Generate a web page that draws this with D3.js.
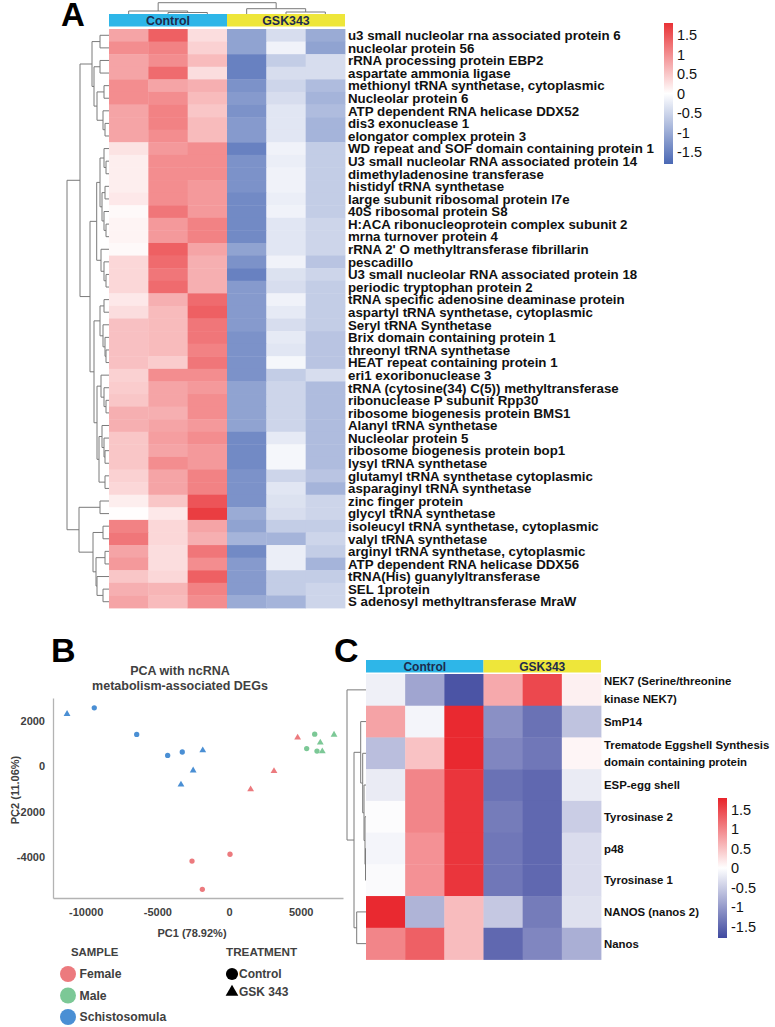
<!DOCTYPE html>
<html><head><meta charset="utf-8">
<script src="https://cdn.jsdelivr.net/npm/d3@7"></script>
<style>body{margin:0;background:#fff}svg{display:block}</style>
</head><body>
<svg id="fig" width="775" height="1027"></svg>
<script>
// ---------------- DATA ----------------
const samples = ["Control 1","Control 2","Control 3","GSK343 1","GSK343 2","GSK343 3"];
const groups = ["Control","GSK343"];
const legendTicks = [1.5, 1, 0.5, 0, -0.5, -1, -1.5];

const rowLabelsA = [
"u3 small nucleolar rna associated protein 6","nucleolar protein 56","rRNA processing protein EBP2",
"aspartate ammonia ligase","methionyl tRNA synthetase, cytoplasmic","Nucleolar protein 6",
"ATP dependent RNA helicase DDX52","dis3 exonuclease 1","elongator complex protein 3",
"WD repeat and SOF domain containing protein 1","U3 small nucleolar RNA associated protein 14",
"dimethyladenosine transferase","histidyl tRNA synthetase","large subunit ribosomal protein l7e",
"40S ribosomal protein S8","H:ACA ribonucleoprotein complex subunit 2","mrna turnover protein 4",
"rRNA 2' O methyltransferase fibrillarin","pescadillo","U3 small nucleolar RNA associated protein 18",
"periodic tryptophan protein 2","tRNA specific adenosine deaminase protein","aspartyl tRNA synthetase, cytoplasmic",
"Seryl tRNA Synthetase","Brix domain containing protein 1","threonyl tRNA synthetase",
"HEAT repeat containing protein 1","eri1 exoribonuclease 3","tRNA (cytosine(34) C(5)) methyltransferase",
"ribonuclease P subunit Rpp30","ribosome biogenesis protein BMS1","Alanyl tRNA synthetase",
"Nucleolar protein 5","ribosome biogenesis protein bop1","lysyl tRNA synthetase",
"glutamyl tRNA synthetase cytoplasmic","asparaginyl tRNA synthetase","zinc finger protein",
"glycyl tRNA synthetase","isoleucyl tRNA synthetase, cytoplasmic","valyl tRNA synthetase",
"arginyl tRNA synthetase, cytoplasmic","ATP dependent RNA helicase DDX56","tRNA(His) guanylyltransferase",
"SEL 1protein","S adenosyl methyltransferase MraW"];

const zA = [
[0.8,1.4,0.3,-1.1,-0.4,-1.0],[1.0,1.1,0.4,-1.1,-0.15,-1.1],[0.8,1.0,0.6,-1.5,-0.6,-0.4],
[0.8,1.3,0.3,-1.5,-0.4,-0.4],[1.0,0.8,0.7,-1.3,-0.5,-0.8],[1.0,1.0,0.6,-1.2,-0.4,-0.9],
[0.8,1.1,0.5,-1.3,-0.3,-0.8],[0.8,1.1,0.6,-1.2,-0.3,-0.9],[0.8,1.0,0.6,-1.2,-0.3,-0.9],
[0.25,0.9,1.0,-1.5,-0.15,-0.6],[0.15,1.0,1.0,-1.3,-0.2,-0.6],[0.15,1.0,1.0,-1.3,-0.15,-0.6],
[0.15,1.0,0.9,-1.3,-0.15,-0.6],[0.2,1.0,0.9,-1.4,-0.2,-0.6],[0.05,1.2,0.9,-1.4,-0.15,-0.6],
[0.1,0.9,1.1,-1.4,-0.3,-0.5],[0.1,0.9,1.1,-1.4,-0.3,-0.5],[0.05,1.4,0.8,-1.1,-0.3,-0.5],
[0.35,1.3,0.7,-1.3,-0.15,-0.7],[0.35,1.2,0.7,-1.5,-0.35,-0.5],[0.35,1.3,0.7,-1.2,-0.4,-0.6],
[0.2,0.7,1.3,-1.2,-0.15,-0.6],[0.3,0.6,1.4,-1.2,-0.25,-0.6],[0.55,0.6,1.2,-1.2,-0.4,-0.6],
[0.55,0.6,1.2,-1.3,-0.25,-0.7],[0.55,0.6,1.1,-1.3,-0.3,-0.7],[0.55,0.45,1.2,-1.3,-0.1,-0.7],
[0.4,1.0,1.0,-1.3,-0.6,-0.4],[0.45,0.8,0.9,-1.1,-0.5,-0.8],[0.5,0.8,1.0,-1.1,-0.5,-0.8],
[0.7,0.7,1.0,-1.1,-0.5,-0.8],[0.7,0.8,0.9,-1.1,-0.5,-0.8],[0.5,0.85,1.0,-1.4,-0.25,-0.8],
[0.5,0.8,0.9,-1.4,-0.1,-0.8],[0.5,1.0,0.9,-1.4,-0.1,-0.8],[0.4,0.8,1.1,-1.3,-0.5,-0.7],
[0.35,0.8,1.1,-1.3,-0.3,-0.9],[0.15,0.5,1.5,-1.3,-0.35,-0.5],[0.02,0.2,1.7,-1.0,-0.4,-0.5],
[1.1,0.35,0.8,-1.1,-0.6,-0.6],[1.2,0.35,0.7,-0.9,-0.9,-0.5],[0.8,0.3,1.2,-1.4,-0.2,-0.6],
[0.9,0.3,1.0,-1.2,-0.2,-0.9],[0.5,0.35,1.4,-1.2,-0.6,-0.6],[0.7,0.65,1.1,-1.2,-0.6,-0.5],
[0.8,0.6,1.0,-1.0,-0.9,-0.5]];

// dendrograms: [height, left, right]; leaves are 1-based row / column numbers
const rowTreeA = [42,
  [29,
    [17, [9,1,2], [15, [9,3,4], [12, [5,5,6], [6,7,[4,8,9]]]]],
    [19,
      [12.3, [9, [5,10,[3,11,12]], [7,[4,13,14],[5,15,[3,16,17]]]], [8,18,[5,19,[3,20,21]]]],
      [15, [9,[5,22,23],[6,24,[4,25,[3,26,27]]]], [12,[8,28,[5,29,[3,30,31]]],[10,[7,32,[5,33,[4,34,35]]],[4,36,37]]]]]],
  [30, [9,38,39], [16, [6,40,41], [13, [4,42,43], [12, 44, [6,45,46]]]]]];
const colTreeA = [11.3, [3,1,[1.5,2,3]], [5.3,4,[2,5,6]]];

// PCA
const pc1 = [-11300,-2500,-3350,-1830, -9400,-6440,-4280,-3260, 1510,3140,4790, 5980,5420,6140, 6370,7330,6510, -2580,70,-1860];
const pc2 = [2300,-180,-800,700, 2570,1400,480,630, -1010,-210,1260, 1410,780,670, 1040,1390,660, -4160,-3860,-5400];
const pcaSample = ["Schistosomula","Schistosomula","Schistosomula","Schistosomula","Schistosomula","Schistosomula","Schistosomula","Schistosomula",
  "Female","Female","Female","Male","Male","Male","Male","Male","Male","Female","Female","Female"];
const pcaTreatment = ["GSK 343","GSK 343","GSK 343","GSK 343","Control","Control","Control","Control",
  "GSK 343","GSK 343","GSK 343","Control","Control","Control","GSK 343","GSK 343","GSK 343","Control","Control","Control"];
const sampleTypes = ["Female","Male","Schistosomula"];
const treatments = ["Control","GSK 343"];
const pc1Ticks = [-10000,-5000,0,5000];
const pc2Ticks = [2000,0,-2000,-4000];

// Panel C
const rowLabelsC = ["NEK7 (Serine/threonine|kinase NEK7)","SmP14","Trematode Eggshell Synthesis|domain containing protein",
  "ESP-egg shell","Tyrosinase 2","p48","Tyrosinase 1","NANOS (nanos 2)","Nanos"];
const zC = [
[-0.15,-0.9,-1.7,0.7,1.5,0.12],
[0.75,-0.1,1.75,-1.1,-1.4,-0.6],
[-0.65,0.5,1.75,-1.2,-1.35,0.08],
[-0.2,1.0,1.65,-1.4,-1.5,-0.2],
[-0.03,1.0,1.65,-1.3,-1.5,-0.5],
[-0.1,0.9,1.65,-1.35,-1.5,-0.35],
[-0.05,0.9,1.65,-1.35,-1.5,-0.35],
[1.75,-0.75,0.55,-0.55,-1.3,-0.3],
[1.0,1.3,0.55,-1.5,-1.2,-0.8]];
const rowTreeC = [19, 1, [12, [5.3, 2, [3.3, 3, [2, 4, [1, 5, [0.5, 6, 7]]]]], [9.3, 8, 9]]];

// ---------------- DRAW ----------------
const svg = d3.select("#fig");
const FONT = "'Liberation Sans', Arial, sans-serif";
const cyan = "#2eb6e8", yellow = "#eee63a", hdrText = "#1d2b4c";

function layoutTree(node, leafPos, segs) {
  if (typeof node === "number") return {p: leafPos(node), h: 0};
  const [h, a, b] = node;
  const L = layoutTree(a, leafPos, segs), R = layoutTree(b, leafPos, segs);
  segs.push({h1: h, h2: h, p1: L.p, p2: R.p});
  segs.push({h1: h, h2: L.h, p1: L.p, p2: L.p});
  segs.push({h1: h, h2: R.h, p1: R.p, p2: R.p});
  return {p: (L.p + R.p) / 2, h};
}

function drawRowTree(g, tree, yBand, labels, dist) {
  const segs = [];
  layoutTree(tree, i => yBand(labels[i - 1]) + yBand.bandwidth() / 2, segs);
  g.selectAll("line.rt").data(segs).join("line").attr("class", "rt")
    .attr("x1", d => dist(d.h1)).attr("x2", d => dist(d.h2))
    .attr("y1", d => d.p1).attr("y2", d => d.p2)
    .attr("stroke", "#7a7a7a").attr("stroke-width", 1);
}

function heatmap(g, labels, z, xBand, yBand, color) {
  const cells = [];
  z.forEach((row, i) => row.forEach((v, j) => cells.push({r: labels[i], c: samples[j], v})));
  g.selectAll("rect.cell").data(cells).join("rect").attr("class", "cell")
    .attr("x", d => xBand(d.c)).attr("y", d => yBand(d.r))
    .attr("width", xBand.bandwidth() + 0.4).attr("height", yBand.bandwidth() + 0.4)
    .attr("fill", d => color(d.v));
}

function header(g, xBand, y, h, fs) {
  const gw = xBand.bandwidth() * 3;
  groups.forEach((grp, k) => {
    const x0 = xBand(samples[k * 3]);
    g.append("rect").attr("x", x0).attr("y", y).attr("width", gw).attr("height", h).attr("fill", k ? yellow : cyan);
    g.append("text").attr("x", x0 + gw / 2).attr("y", y + h / 2).attr("dy", "0.36em")
      .attr("text-anchor", "middle").attr("font-family", FONT).attr("font-weight", "bold")
      .attr("font-size", fs).attr("fill", hdrText).text(grp);
  });
}

function colorLegend(g, id, color, x, y0, y1, lx) {
  const ls = d3.scaleLinear().domain([-1.8, 1.8]).range([y1, y0]);
  const grad = svg.append("defs").append("linearGradient").attr("id", id)
    .attr("x1", 0).attr("x2", 0).attr("y1", 0).attr("y2", 1);
  d3.range(0, 1.0001, 0.05).forEach(t => grad.append("stop").attr("offset", t).attr("stop-color", color(1.8 - 3.6 * t)));
  g.append("rect").attr("x", x).attr("y", y0).attr("width", 9).attr("height", y1 - y0).attr("fill", `url(#${id})`);
  g.selectAll("text.lt").data(legendTicks).join("text").attr("class", "lt")
    .attr("x", lx).attr("y", d => ls(d)).attr("dy", "0.36em")
    .attr("font-family", FONT).attr("font-size", 14.5).attr("fill", "#111").text(d => d);
}

// ===== Panel A =====
const colorA = d3.scaleLinear().domain([-1.8, 0, 1.8]).range(["#4a68b4", "#ffffff", "#e93236"]).clamp(true);
const gA = svg.append("g");
const xA = d3.scaleBand().domain(samples).range([109, 345]);
const yA = d3.scaleBand().domain(rowLabelsA).range([29, 608]);
heatmap(gA, rowLabelsA, zA, xA, yA, colorA);
header(gA, xA, 14, 12.5, 12.4);
gA.selectAll("text.rl").data(rowLabelsA).join("text").attr("class", "rl")
  .attr("x", 348).attr("y", d => yA(d) + yA.bandwidth() / 2).attr("dy", "0.36em")
  .attr("font-family", FONT).attr("font-weight", "bold").attr("font-size", 13.3).attr("fill", "#111").text(d => d);
drawRowTree(gA, rowTreeA, yA, rowLabelsA, d3.scaleLinear().domain([0, 42]).range([109, 67]));
{
  const segs = [];
  layoutTree(colTreeA, i => xA(samples[i - 1]) + xA.bandwidth() / 2, segs);
  const dy = d3.scaleLinear().domain([0, 11.3]).range([14, 2.7]);
  gA.selectAll("line.ct").data(segs).join("line").attr("class", "ct")
    .attr("y1", d => dy(d.h1)).attr("y2", d => dy(d.h2)).attr("x1", d => d.p1).attr("x2", d => d.p2)
    .attr("stroke", "#7a7a7a").attr("stroke-width", 1);
}
colorLegend(gA, "gradA", colorA, 664, 23, 164, 677);
svg.append("text").attr("x", 61).attr("y", 26).attr("font-family", FONT).attr("font-weight", "bold")
  .attr("font-size", 33).attr("fill", "#000").text("A");

// ===== Panel B =====
const gB = svg.append("g");
const xB = d3.scaleLinear().domain([-12280, 7955]).range([53, 343]);
const yB = d3.scaleLinear().domain([-5780, 3000]).range([898, 698]);
const sampleColor = d3.scaleOrdinal().domain(sampleTypes).range(["#ec7a7e", "#7cc896", "#4a8fd4"]);
const BFONT = "'Liberation Sans', Arial, sans-serif";
const axB = gB.append("g").attr("transform", "translate(0,898)")
  .call(d3.axisBottom(xB).tickValues(pc1Ticks).tickSize(0).tickSizeOuter(0).tickPadding(10).tickFormat(d => String(d)));
const ayB = gB.append("g").attr("transform", "translate(53,0)")
  .call(d3.axisLeft(yB).tickValues(pc2Ticks).tickSize(0).tickSizeOuter(0).tickPadding(8).tickFormat(d => String(d)));
[axB, ayB].forEach(a => {
  a.select(".domain").attr("stroke", "#b3b3b3").attr("stroke-width", 1.3);
  a.selectAll("text").attr("font-family", BFONT).attr("font-weight", "bold").attr("font-size", 11).attr("fill", "#404040");
});
const pts = pc1.map((v, i) => ({x: v, y: pc2[i], s: pcaSample[i], t: pcaTreatment[i]}));
gB.selectAll("path.pt").data(pts).join("path").attr("class", "pt")
  .attr("transform", d => `translate(${xB(d.x)},${yB(d.y)})`)
  .attr("d", d => d3.symbol(d.t === "Control" ? d3.symbolCircle : d3.symbolTriangle, d.t === "Control" ? 22 : 20)())
  .attr("fill", d => sampleColor(d.s));
gB.append("text").attr("x", 180).attr("y", 670).attr("dy", "0.36em").attr("text-anchor", "middle")
  .attr("font-family", BFONT).attr("font-weight", "bold").attr("font-size", 12.5).attr("fill", "#404040").text("PCA with ncRNA");
gB.append("text").attr("x", 180).attr("y", 685).attr("dy", "0.36em").attr("text-anchor", "middle")
  .attr("font-family", BFONT).attr("font-weight", "bold").attr("font-size", 12.5).attr("fill", "#404040").text("metabolism-associated DEGs");
gB.append("text").attr("x", 192).attr("y", 933).attr("dy", "0.36em").attr("text-anchor", "middle")
  .attr("font-family", BFONT).attr("font-weight", "bold").attr("font-size", 11).attr("fill", "#404040").text("PC1 (78.92%)");
gB.append("text").attr("transform", "translate(15,790) rotate(-90)").attr("dy", "0.36em").attr("text-anchor", "middle")
  .attr("font-family", BFONT).attr("font-weight", "bold").attr("font-size", 11).attr("fill", "#404040").text("PC2 (11.06%)");
// legends
gB.append("text").attr("x", 71).attr("y", 952).attr("dy", "0.36em").attr("font-family", BFONT).attr("font-weight", "bold")
  .attr("font-size", 11.4).attr("fill", "#404040").text("SAMPLE");
gB.append("text").attr("x", 226).attr("y", 952).attr("dy", "0.36em").attr("font-family", BFONT).attr("font-weight", "bold")
  .attr("font-size", 11.7).attr("fill", "#404040").text("TREATMENT");
const legY = d3.scalePoint().domain(sampleTypes).range([974, 1017]);
gB.selectAll("circle.ls").data(sampleTypes).join("circle").attr("class", "ls")
  .attr("cx", 68).attr("cy", d => legY(d)).attr("r", 8).attr("fill", d => sampleColor(d));
gB.selectAll("text.ls").data(sampleTypes).join("text").attr("class", "ls")
  .attr("x", 79.5).attr("y", d => legY(d)).attr("dy", "0.36em").attr("font-family", BFONT).attr("font-weight", "bold")
  .attr("font-size", 12.2).attr("fill", "#404040").text(d => d);
const legT = d3.scalePoint().domain(treatments).range([974, 992]);
gB.selectAll("path.lt").data(treatments).join("path").attr("class", "lt")
  .attr("transform", d => `translate(232,${legT(d)})`)
  .attr("d", d => d3.symbol(d === "Control" ? d3.symbolCircle : d3.symbolTriangle, d === "Control" ? 115 : 70)())
  .attr("fill", "#000");
gB.selectAll("text.lt2").data(treatments).join("text").attr("class", "lt2")
  .attr("x", 239).attr("y", d => legT(d)).attr("dy", "0.36em").attr("font-family", BFONT).attr("font-weight", "bold")
  .attr("font-size", 12).attr("fill", "#404040").text(d => d);
svg.append("text").attr("x", 51).attr("y", 662).attr("font-family", FONT).attr("font-weight", "bold")
  .attr("font-size", 34).attr("fill", "#000").text("B");

// ===== Panel C =====
const colorC = d3.scaleLinear().domain([-1.8, 0, 1.8]).range(["#404aa0", "#ffffff", "#e8232a"]).clamp(true);
const gC = svg.append("g");
const xC = d3.scaleBand().domain(samples).range([366, 601]);
const yC = d3.scaleBand().domain(rowLabelsC).range([674, 959.5]);
heatmap(gC, rowLabelsC, zC, xC, yC, colorC);
header(gC, xC, 660, 12.5, 12);
rowLabelsC.forEach(lab => {
  const lines = lab.split("|");
  const cy = yC(lab) + yC.bandwidth() / 2;
  const t = gC.append("text").attr("font-family", FONT).attr("font-weight", "bold").attr("font-size", 11.4).attr("fill", "#111");
  lines.forEach((ln, k) => t.append("tspan").attr("x", 604)
    .attr("y", cy + (k - (lines.length - 1) / 2) * 17.5).attr("dy", "0.36em").text(ln));
});
drawRowTree(gC, rowTreeC, yC, rowLabelsC, d3.scaleLinear().domain([0, 19]).range([366, 347]));
colorLegend(gC, "gradC", colorC, 718, 798, 938, 731);
svg.append("text").attr("x", 334).attr("y", 662).attr("font-family", FONT).attr("font-weight", "bold")
  .attr("font-size", 34).attr("fill", "#000").text("C");
</script>
</body></html>
